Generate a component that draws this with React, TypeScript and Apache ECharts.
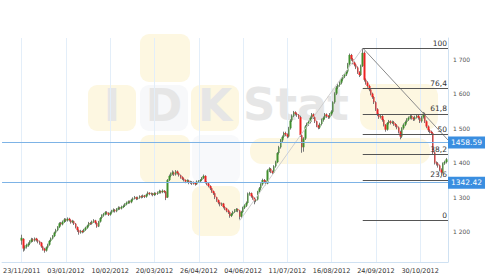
import React, { useEffect, useRef } from 'react';
import * as echarts from 'echarts';

const tickLabels = ['23/11/2011', '03/01/2012', '10/02/2012', '20/03/2012', '26/04/2012', '04/06/2012', '11/07/2012', '16/08/2012', '24/09/2012', '30/10/2012'];
const yTicks = [1200, 1300, 1400, 1500, 1600, 1700];
// [open, close, low, high]
const candles: number[][] = [
  [1175,1183,1163,1192],[1180,1152,1143,1182],[1152,1157,1146,1161],[1157,1162,1152,1166],[1161,1166,1157,1170],
  [1166,1173,1162,1176],[1172,1178,1169,1183],[1179,1175,1171,1182],[1175,1180,1172,1184],[1181,1176,1172,1183],
  [1176,1172,1167,1179],[1172,1168,1163,1175],[1169,1158,1154,1171],[1158,1150,1146,1160],[1151,1146,1140,1154],
  [1146,1155,1143,1158],[1155,1163,1152,1166],[1163,1174,1160,1177],[1174,1181,1171,1184],[1181,1188,1178,1191],
  [1188,1198,1185,1201],[1198,1205,1195,1209],[1205,1214,1202,1217],[1214,1225,1211,1228],[1226,1222,1218,1229],
  [1222,1229,1219,1233],[1229,1236,1226,1240],[1236,1233,1229,1239],[1233,1238,1230,1242],[1238,1234,1230,1241],
  [1234,1228,1224,1236],[1228,1231,1225,1235],[1231,1224,1220,1233],[1224,1214,1210,1226],[1214,1205,1200,1216],
  [1205,1198,1192,1207],[1198,1203,1195,1206],[1203,1200,1196,1205],[1200,1206,1198,1209],[1206,1212,1203,1215],
  [1212,1218,1209,1221],[1218,1226,1215,1229],[1226,1224,1220,1229],[1224,1230,1221,1233],[1230,1233,1226,1237],
  [1233,1226,1222,1235],[1226,1216,1212,1228],[1216,1230,1214,1232],[1230,1240,1227,1243],[1240,1248,1237,1251],
  [1248,1251,1244,1255],[1251,1257,1248,1260],[1257,1254,1250,1260],[1254,1250,1246,1257],[1250,1256,1247,1259],
  [1256,1261,1253,1264],[1261,1264,1257,1268],[1264,1260,1256,1266],[1260,1266,1257,1269],[1266,1270,1263,1274],
  [1270,1268,1264,1273],[1268,1272,1265,1276],[1272,1275,1269,1279],[1275,1280,1272,1283],[1280,1284,1277,1288],
  [1284,1288,1281,1291],[1288,1286,1282,1291],[1286,1293,1283,1296],[1293,1297,1290,1300],[1297,1300,1294,1304],
  [1300,1296,1292,1302],[1296,1299,1293,1302],[1299,1303,1296,1306],[1303,1301,1297,1306],[1301,1305,1298,1308],
  [1305,1302,1298,1307],[1302,1308,1299,1311],[1308,1313,1305,1317],[1313,1310,1306,1315],[1310,1311,1306,1314],
  [1311,1307,1303,1313],[1307,1312,1304,1315],[1312,1310,1306,1314],[1310,1314,1307,1317],[1314,1318,1311,1322],
  [1318,1315,1311,1320],[1315,1319,1312,1323],[1319,1316,1312,1321],[1316,1298,1292,1318],[1300,1350,1298,1353],
  [1350,1362,1347,1366],[1362,1368,1358,1372],[1368,1372,1364,1378],[1372,1366,1362,1375],[1366,1375,1363,1379],
  [1375,1370,1366,1378],[1370,1364,1360,1372],[1364,1358,1354,1366],[1358,1354,1350,1361],[1354,1350,1346,1357],
  [1350,1346,1341,1352],[1346,1349,1342,1352],[1349,1342,1338,1351],[1342,1345,1339,1348],[1345,1340,1336,1347],
  [1340,1343,1337,1346],[1343,1338,1334,1345],[1338,1346,1336,1349],[1346,1347,1342,1350],[1347,1350,1344,1353],
  [1350,1356,1347,1359],[1356,1362,1353,1366],[1362,1344,1340,1364],[1344,1340,1335,1347],[1340,1333,1329,1342],
  [1333,1326,1321,1335],[1326,1318,1313,1328],[1318,1312,1307,1320],[1312,1300,1295,1314],[1300,1292,1287,1302],
  [1292,1285,1280,1294],[1285,1279,1274,1287],[1279,1282,1275,1285],[1282,1272,1268,1284],[1272,1268,1263,1275],
  [1268,1262,1257,1270],[1262,1257,1252,1265],[1257,1246,1241,1259],[1246,1252,1243,1255],[1252,1258,1249,1261],
  [1258,1262,1255,1266],[1262,1266,1258,1269],[1266,1262,1257,1268],[1262,1244,1236,1264],[1244,1258,1240,1261],
  [1258,1270,1255,1273],[1270,1276,1266,1280],[1276,1284,1272,1288],[1284,1310,1282,1314],[1310,1312,1305,1316],
  [1312,1303,1299,1314],[1303,1298,1293,1306],[1298,1290,1280,1300],[1290,1294,1286,1298],[1294,1316,1291,1319],
  [1316,1326,1312,1330],[1326,1338,1322,1341],[1338,1350,1334,1354],[1350,1346,1341,1353],[1346,1340,1335,1349],
  [1340,1378,1338,1381],[1378,1383,1373,1387],[1383,1375,1370,1385],[1375,1371,1366,1378],[1371,1390,1368,1393],
  [1390,1402,1386,1406],[1402,1428,1399,1431],[1428,1445,1424,1449],[1445,1465,1441,1469],[1465,1475,1460,1479],
  [1475,1486,1471,1490],[1486,1482,1477,1490],[1482,1476,1471,1485],[1476,1500,1473,1504],[1500,1522,1496,1526],
  [1522,1536,1518,1540],[1536,1546,1532,1550],[1546,1542,1537,1549],[1542,1538,1533,1545],[1538,1532,1527,1541],
  [1532,1480,1475,1536],[1480,1445,1429,1484],[1445,1470,1432,1474],[1470,1505,1466,1509],[1505,1512,1500,1516],
  [1512,1518,1507,1522],[1518,1530,1514,1534],[1530,1540,1526,1544],[1540,1532,1527,1543],[1532,1520,1515,1534],
  [1520,1508,1503,1522],[1508,1502,1497,1510],[1502,1512,1498,1516],[1512,1524,1508,1528],[1524,1530,1519,1534],
  [1530,1540,1526,1544],[1540,1535,1530,1543],[1535,1532,1527,1538],[1532,1540,1528,1544],[1540,1548,1536,1552],
  [1548,1575,1544,1578],[1575,1600,1571,1604],[1600,1618,1596,1622],[1618,1625,1613,1629],[1625,1632,1620,1636],
  [1632,1642,1627,1646],[1642,1650,1637,1654],[1650,1656,1645,1660],[1656,1664,1651,1668],[1664,1685,1660,1689],
  [1685,1712,1681,1716],[1712,1700,1695,1715],[1700,1690,1685,1703],[1690,1684,1679,1693],[1684,1676,1671,1687],
  [1676,1662,1657,1679],[1662,1654,1648,1665],[1654,1680,1651,1684],[1680,1718,1677,1732],[1718,1640,1635,1722],
  [1640,1632,1626,1644],[1632,1622,1617,1636],[1622,1612,1607,1626],[1612,1600,1595,1615],[1600,1590,1585,1603],
  [1590,1575,1570,1593],[1575,1555,1550,1578],[1555,1540,1535,1558],[1540,1532,1527,1543],[1532,1535,1528,1539],
  [1535,1524,1519,1538],[1524,1510,1505,1527],[1510,1496,1490,1512],[1496,1515,1493,1518],[1515,1520,1511,1524],
  [1520,1516,1511,1523],[1516,1518,1512,1522],[1518,1512,1507,1521],[1512,1508,1503,1515],[1508,1502,1497,1511],
  [1502,1490,1485,1505],[1490,1476,1468,1493],[1476,1500,1472,1503],[1500,1510,1496,1514],[1510,1518,1506,1522],
  [1518,1525,1514,1529],[1525,1530,1521,1534],[1530,1535,1526,1540],[1535,1530,1525,1538],[1530,1526,1521,1533],
  [1526,1532,1522,1536],[1532,1536,1528,1540],[1536,1530,1525,1539],[1530,1520,1515,1533],[1520,1532,1516,1536],
  [1532,1542,1528,1547],[1542,1520,1515,1545],[1520,1505,1500,1523],[1505,1494,1489,1508],[1494,1490,1485,1497],
  [1490,1486,1481,1493],[1486,1430,1425,1489],[1430,1400,1395,1433],[1400,1398,1392,1404],[1398,1392,1386,1402],
  [1392,1380,1375,1395],[1380,1372,1362,1384],[1372,1398,1369,1401],[1398,1402,1394,1406],[1402,1410,1398,1414],
];
const levelValues = [1458.59, 1342.42];
const fibLow = 1233;
const fibHigh = 1732;
const fibRatios = [0, 23.6, 38.2, 50, 61.8, 76.4, 100];
const fibLabels = ['0', '23,6', '38,2', '50', '61,8', '76,4', '100'];
const lowCandle = 133;
const peakCandle = 208;
const trendEndValue = 1466;

const LEAD = 12;
const STEP = 27;

export default function App() {
  const ref = useRef<HTMLDivElement>(null);
  useEffect(() => {
    if (!ref.current) return;
    const chart = echarts.init(ref.current, undefined, { renderer: 'svg' });
    const total = LEAD + candles.length + 1;
    const categories = Array.from({ length: total }, (_, i) => String(i));
    const pad = Array.from({ length: LEAD }, () => ['-', '-', '-', '-']);
    const seriesData = [...pad, ...candles];
    const isTick = (i: number) => i >= LEAD && (i - LEAD) % STEP === 0;
    const endIdx = total - 1;
    const peakIdx = LEAD + peakCandle;
    const font = 'DejaVu Sans';

    const fibLines = fibRatios.map((r, k) => {
      const v = fibLow + (r / 100) * (fibHigh - fibLow);
      return [
        {
          coord: [peakIdx, v],
          lineStyle: { color: '#555', width: 1, type: 'solid' },
          label: { show: true, position: 'insideEndTop', formatter: fibLabels[k], color: '#333', fontSize: 7.5, fontFamily: font, distance: 1 },
        },
        { coord: [endIdx, v] },
      ];
    });

    const blueLines = levelValues.map((v) => ({
      yAxis: v,
      lineStyle: { color: '#7db3e6', width: 1, type: 'solid' },
      label: {
        show: true, position: 'end', formatter: v.toFixed(2), distance: 0,
        backgroundColor: '#3a8ee0', color: '#fff', fontSize: 7.5, fontFamily: font,
        padding: [2, 3, 1, 3], lineHeight: 9,
      },
    }));

    const diagonals = [
      [
        { coord: [LEAD + lowCandle, fibLow], lineStyle: { color: '#cfcfcf', width: 1, type: 'solid' }, label: { show: false } },
        { coord: [peakIdx, fibHigh] },
      ],
      [
        { coord: [peakIdx, fibHigh], lineStyle: { color: '#8a8a8a', width: 1, type: 'solid' }, label: { show: false } },
        { coord: [endIdx, trendEndValue] },
      ],
    ];

    const wm = '#fdf7e1';
    const wmText = '#e6e6e6';
    chart.setOption({
      animation: false,
      backgroundColor: '#fff',
      graphic: [
        { type: 'rect', z: -10, shape: { x: 140, y: 34, width: 50, height: 48, r: 9 }, style: { fill: wm } },
        { type: 'rect', z: -10, shape: { x: 88, y: 85, width: 48, height: 46, r: 9 }, style: { fill: wm } },
        { type: 'rect', z: -10, shape: { x: 140, y: 85, width: 48, height: 46, r: 9 }, style: { fill: '#f7f8fa' } },
        { type: 'rect', z: -10, shape: { x: 191, y: 85, width: 48, height: 46, r: 9 }, style: { fill: wm } },
        { type: 'rect', z: -10, shape: { x: 140, y: 135, width: 50, height: 48, r: 9 }, style: { fill: wm } },
        { type: 'rect', z: -10, shape: { x: 192, y: 135, width: 48, height: 48, r: 9 }, style: { fill: '#f8f9fb' } },
        { type: 'rect', z: -10, shape: { x: 192, y: 186, width: 48, height: 50, r: 9 }, style: { fill: wm } },
        { type: 'rect', z: -10, shape: { x: 250, y: 138, width: 180, height: 26, r: 12 }, style: { fill: wm } },
        { type: 'rect', z: -10, shape: { x: 360, y: 84, width: 78, height: 46, r: 12 }, style: { fill: wm } },
        { type: 'text', z: -9, style: { text: 'I', x: 112, y: 127, fontSize: 44, fontWeight: 'bold', fontFamily: font, fill: wmText, textAlign: 'center', textVerticalAlign: 'bottom' } },
        { type: 'text', z: -9, style: { text: 'D', x: 164, y: 127, fontSize: 44, fontWeight: 'bold', fontFamily: font, fill: wmText, textAlign: 'center', textVerticalAlign: 'bottom' } },
        { type: 'text', z: -9, style: { text: 'K', x: 215, y: 127, fontSize: 44, fontWeight: 'bold', fontFamily: font, fill: wmText, textAlign: 'center', textVerticalAlign: 'bottom' } },
        { type: 'text', z: -9, style: { text: 'Stat', x: 243, y: 127, fontSize: 45, fontWeight: 'bold', fontFamily: font, fill: wmText, textAlign: 'left', textVerticalAlign: 'bottom' } },
      ],
      grid: { left: 0, right: 52, top: 38, bottom: 17, containLabel: false },
      xAxis: {
        type: 'category',
        data: categories,
        boundaryGap: false,
        axisLine: { show: true, lineStyle: { color: '#cfe1f2' } },
        axisTick: { show: false },
        axisLabel: {
          interval: (i: number) => isTick(i),
          formatter: (_v: string, i: number) => (isTick(i) ? tickLabels[(i - LEAD) / STEP] ?? '' : ''),
          color: '#333', fontSize: 6.5, fontFamily: font, margin: 5,
        },
        splitLine: { show: true, interval: (i: number) => isTick(i), lineStyle: { color: '#e3eef9', width: 1 } },
      },
      yAxis: {
        type: 'value',
        position: 'right',
        min: 1113,
        max: 1761,
        scale: true,
        splitLine: { show: false },
        axisLine: { show: true, lineStyle: { color: '#cfe1f2' } },
        axisTick: { show: false },
        axisLabel: {
          customValues: yTicks,
          formatter: (v: number) => String(v).replace(/\B(?=(\d{3})+(?!\d))/g, ' '),
          color: '#555', fontSize: 6, fontFamily: font, margin: 5,
        },
      },
      series: [
        {
          type: 'candlestick',
          name: 'wick',
          data: seriesData,
          barWidth: 1,
          itemStyle: { color: '#888', color0: '#888', borderColor: '#7a7a7a', borderColor0: '#7a7a7a', borderWidth: 1 },
          markLine: {
            silent: true,
            symbol: ['none', 'none'],
            animation: false,
            data: [...diagonals, ...fibLines, ...blueLines],
          },
        },
        {
          type: 'candlestick',
          name: 'body',
          data: seriesData.map((d) => (d[0] === '-' ? d : [d[0], d[1], Math.min(d[0] as number, d[1] as number), Math.max(d[0] as number, d[1] as number)])),
          barWidth: 2,
          itemStyle: { color: '#3f8f2c', color0: '#ec2222', borderColor: '#3f8f2c', borderColor0: '#ec2222', borderWidth: 0 },
        },
      ],
    });
    return () => chart.dispose();
  }, []);
  return <div ref={ref} style={{ width: 500, height: 279, position: 'absolute', left: 0, top: 0 }} />;
}
